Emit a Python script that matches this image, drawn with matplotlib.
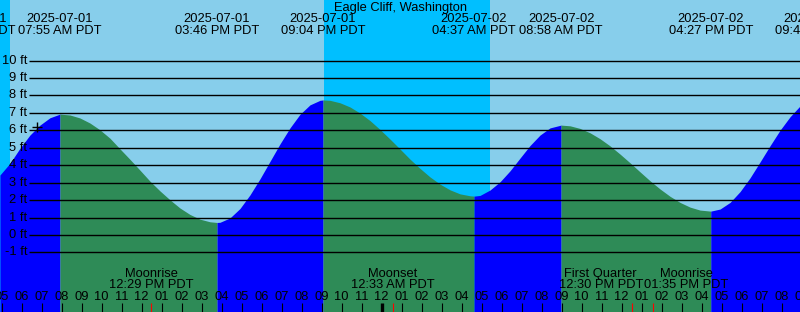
import numpy as np
import matplotlib.pyplot as plt

plt.rcParams['font.family'] = ['Liberation Sans', 'DejaVu Sans']

station = 'Eagle Cliff, Washington'

# tide curve: hours since 2025-07-01 00:00 PDT, height in ft
hours = [4.915, 5.415, 5.915, 6.415, 6.915, 7.415, 7.917, 8.415, 8.915, 9.415,
         9.915, 10.415, 10.915, 11.415, 11.915, 12.415, 12.915, 13.415, 13.915, 14.415,
         14.915, 15.415, 15.767, 15.915, 16.415, 16.915, 17.415, 17.915, 18.415, 18.915,
         19.415, 19.915, 20.415, 20.915, 21.067, 21.415, 21.915, 22.415, 22.915, 23.415,
         23.915, 24.415, 24.915, 25.415, 25.915, 26.415, 26.915, 27.415, 27.915, 28.415,
         28.617, 28.915, 29.415, 29.915, 30.415, 30.915, 31.415, 31.915, 32.415, 32.967,
         33.415, 33.915, 34.415, 34.915, 35.415, 35.915, 36.415, 36.915, 37.415, 37.915,
         38.415, 38.915, 39.415, 39.915, 40.450, 40.915, 41.415, 41.915, 42.415, 42.915,
         43.415, 43.915, 44.415, 44.915]
heights = [3.44, 4.11, 4.97, 5.73, 6.30, 6.72, 6.93, 6.88, 6.71, 6.42,
           6.03, 5.55, 4.94, 4.34, 3.72, 3.09, 2.53, 2.02, 1.55, 1.18,
           0.91, 0.76, 0.72, 0.73, 0.98, 1.52, 2.30, 3.22, 4.22, 5.22,
           6.14, 6.92, 7.46, 7.72, 7.74, 7.72, 7.58, 7.34, 6.99, 6.56,
           6.05, 5.50, 4.93, 4.35, 3.82, 3.33, 2.92, 2.59, 2.36, 2.25,
           2.23, 2.27, 2.58, 3.05, 3.68, 4.41, 5.13, 5.73, 6.14, 6.30,
           6.26, 6.11, 5.86, 5.52, 5.11, 4.64, 4.14, 3.62, 3.11, 2.64,
           2.22, 1.87, 1.60, 1.43, 1.37, 1.49, 1.87, 2.49, 3.28, 4.19,
           5.12, 6.01, 6.78, 7.40]

# high / low tide events
ev_hours = [3.62, 7.917, 15.767, 21.067, 28.617, 32.967, 40.450, 45.75]
ev_dates = ['2025-07-01', '2025-07-01', '2025-07-01', '2025-07-01',
            '2025-07-02', '2025-07-02', '2025-07-02', '2025-07-02']
ev_times = ['03:37 AM PDT', '07:55 AM PDT', '03:46 PM PDT', '09:04 PM PDT',
            '04:37 AM PDT', '08:58 AM PDT', '04:27 PM PDT', '09:45 PM PDT']

# sunset -> sunrise
night = [(0.0, 5.42), (21.12, 29.42)]

# moon events
moon_hours = [12.48, 24.55, 36.5, 37.58]
moon_names = ['Moonrise', 'Moonset', 'First Quarter', 'Moonrise']
moon_times = ['12:29 PM PDT', '12:33 AM PDT', '12:30 PM PDT', '01:35 PM PDT']
moon_shift = [0, 0, -1.55, 1.65]

now_hour, now_height = 6.79, 6.17
levels = list(range(-1, 11))

x0, x1 = 4.919, 44.911
y0, y1 = -4.41, 13.47
H = 312.0
fs = 9.3

fig = plt.figure(figsize=(8, 3.12), dpi=100)
ax = fig.add_axes([0, 0, 1, 1])
ax.set_xlim(x0, x1)
ax.set_ylim(y0, y1)
ax.axis('off')
fig.patch.set_facecolor('#87ceeb')

for a, b in night:
    ax.axvspan(a, b, color='#00bfff', lw=0, zorder=1)

t = np.array(hours)
h = np.array(heights)
bounds = [t[0]] + [e for e in ev_hours if t[0] < e < t[-1]] + [t[-1]]
for a, b in zip(bounds[:-1], bounds[1:]):
    m = (t >= a - 1e-6) & (t <= b + 1e-6)
    col = '#0000ff' if h[m][-1] > h[m][0] else '#2e8b57'
    ax.fill_between(t[m], h[m], y0 - 1, color=col, lw=0, zorder=2)

gx = x0 + 29 / 20.0
ax.hlines(levels, gx, x1, color='black', lw=1.0, zorder=3)
for lv in levels:
    ax.text(x0 + 27 / 20.0, lv, '%d ft' % lv, ha='right', va='center', fontsize=fs, zorder=4)

ax.plot([now_hour], [now_height], marker='+', color='black', ms=7, mew=1, zorder=5)

tr = ax.get_xaxis_transform()
ax.text(0.5, 1 - 7.5 / H, station, transform=ax.transAxes, ha='center', va='center', fontsize=fs, zorder=5)
for xe, d, tm in zip(ev_hours, ev_dates, ev_times):
    ax.text(xe, 1 - 19.5 / H, d, transform=tr, ha='center', va='center', fontsize=fs, clip_on=True, zorder=5)
    ax.text(xe, 1 - 31.5 / H, tm, transform=tr, ha='center', va='center', fontsize=fs, clip_on=True, zorder=5)

for xm, nm, tm, sh in zip(moon_hours, moon_names, moon_times, moon_shift):
    ax.text(xm + sh, 1 - 274 / H, nm, transform=tr, ha='center', va='center', fontsize=fs, zorder=5)
    ax.text(xm + sh, 1 - 285.5 / H, tm, transform=tr, ha='center', va='center', fontsize=fs, zorder=5)
    ax.vlines(xm, 0, 9 / H, transform=tr, color='red', lw=0.8, zorder=6)

for hr in range(5, 46):
    lab = '%02d' % ((hr % 12) or 12)
    ax.text(hr, 1 - 297 / H, lab, transform=tr, ha='center', va='center', fontsize=fs, clip_on=True, zorder=5)
    ax.vlines(hr, 0, 9 / H, transform=tr, color='black', lw=2.4 if hr % 24 == 0 else 0.8, zorder=5)

fig.savefig('out.png', dpi=100)
